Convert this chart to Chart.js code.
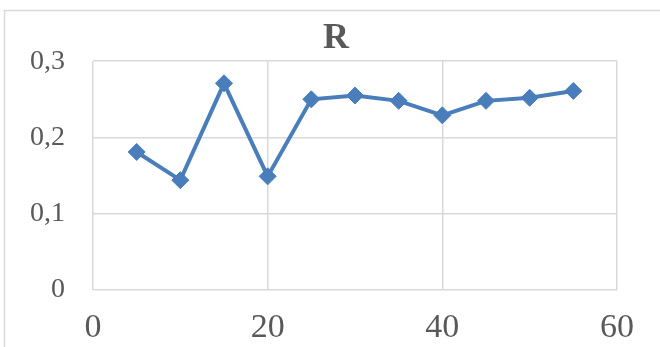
<!DOCTYPE html>
<html>
<head>
<meta charset="utf-8">
<script src="https://cdn.jsdelivr.net/npm/chart.js@4"></script>
<style>
  html, body { margin: 0; padding: 0; background: #ffffff; }
  canvas { display: block; }
</style>
</head>
<body>
<canvas id="chart" width="660" height="347"></canvas>
<script>
// Series R sampled every 5 units
const xValues = [5, 10, 15, 20, 25, 30, 35, 40, 45, 50, 55];
const rValues = [0.181, 0.144, 0.271, 0.149, 0.250, 0.255, 0.248, 0.229, 0.248, 0.252, 0.261];

// Axis ranges and ticks
const xTicks = [0, 20, 40, 60];
const yTicks = [0, 0.1, 0.2, 0.3];

const textColor = '#595959';
const gridColor = '#D9D9D9';
const serif = "'Liberation Serif', 'Times New Roman', serif";

// Light frame around the whole chart
const framePlugin = {
  id: 'frame',
  beforeDraw(chart) {
    const ctx = chart.ctx;
    ctx.save();
    ctx.fillStyle = '#ffffff';
    ctx.fillRect(0, 0, chart.width, chart.height);
    ctx.strokeStyle = gridColor;
    ctx.lineWidth = 1.5;
    ctx.beginPath();
    ctx.moveTo(4.5, chart.height + 5);
    ctx.lineTo(4.5, 10.5);
    ctx.lineTo(chart.width + 5, 10.5);
    ctx.stroke();
    ctx.restore();
  }
};

const fmt = v => {
  const r = Math.round(v * 10) / 10;
  return r === 0 ? '0' : r.toFixed(1).replace('.', ',');
};

new Chart(document.getElementById('chart'), {
  type: 'scatter',
  data: {
    datasets: [{
      label: 'R',
      data: xValues.map((x, i) => ({ x: x, y: rValues[i] })),
      showLine: true,
      borderColor: '#4A7EBB',
      backgroundColor: '#4A7EBB',
      borderWidth: 4,
      pointStyle: 'rectRot',
      pointRadius: 8.5,
      pointHoverRadius: 8.5,
      pointBorderWidth: 1,
      pointBorderColor: '#4A7EBB',
      pointBackgroundColor: '#4A7EBB',
      tension: 0
    }]
  },
  options: {
    responsive: false,
    animation: false,
    layout: { padding: { top: 0, left: 12, right: 0, bottom: 0 } },
    plugins: {
      legend: { display: false },
      tooltip: { enabled: false },
      title: {
        display: true,
        text: 'R',
        color: textColor,
        font: { family: serif, size: 36, weight: 'bold', lineHeight: 1.2 },
        padding: { top: 17, bottom: 1 }
      }
    },
    scales: {
      x: {
        type: 'linear',
        min: xTicks[0],
        max: xTicks[xTicks.length - 1],
        afterBuildTicks: scale => { scale.ticks = xTicks.map(v => ({ value: v })); },
        afterFit: scale => { scale.height = 57; },
        grid: { color: gridColor, lineWidth: 1.5, drawTicks: false },
        border: { display: false },
        ticks: {
          color: textColor,
          padding: 18,
          maxRotation: 0,
          font: { family: serif, size: 34 },
          callback: v => String(v)
        }
      },
      y: {
        min: yTicks[0],
        max: yTicks[yTicks.length - 1],
        afterBuildTicks: scale => { scale.ticks = yTicks.map(v => ({ value: v })); },
        afterFit: scale => { scale.width = 81; },
        grid: { color: gridColor, lineWidth: 1.5, drawTicks: false },
        border: { display: false },
        ticks: {
          color: textColor,
          padding: 28,
          font: { family: serif, size: 28 },
          callback: v => fmt(v)
        }
      },
      // empty margin on the right of the plot
      yRight: {
        position: 'right',
        min: yTicks[0],
        max: yTicks[yTicks.length - 1],
        afterFit: scale => { scale.width = 43; },
        grid: { display: false, drawTicks: false },
        border: { display: false },
        ticks: { display: false }
      }
    }
  },
  plugins: [framePlugin]
});
</script>
</body>
</html>
